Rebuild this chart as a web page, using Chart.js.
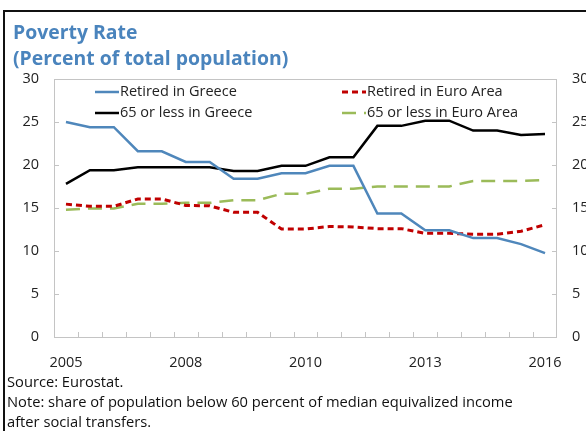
<!DOCTYPE html>
<html>
<head>
<meta charset="utf-8">
<script src="https://cdn.jsdelivr.net/npm/chart.js@4/dist/chart.umd.min.js"></script>
<style>
  html, body { margin: 0; padding: 0; background: #fff; }
  #wrap { position: relative; width: 586px; height: 431px; overflow: hidden; font-family: "Open Sans", sans-serif; }
  #frame { position: absolute; left: 3px; top: 10px; width: 600px; height: 440px; border-left: 2px solid #111; border-top: 2px solid #111; }
  #title { position: absolute; left: 13px; top: 19px; font-size: 19.4px; font-weight: bold; line-height: 26px; color: #4a84bd; white-space: nowrap; }
  #notes { position: absolute; left: 7px; top: 371px; font-size: 14.7px; line-height: 20px; color: #111; white-space: nowrap; }
  #myChart { position: absolute; left: 0; top: 0; }
</style>
</head>
<body>
<div id="wrap">
  <div id="frame"></div>
  <canvas id="myChart" width="600" height="431"></canvas>
  <div id="title">Poverty Rate<br>(Percent of total population)</div>
  <div id="notes">Source: Eurostat.<br>Note: share of population below 60 percent of median equivalized income<br>after social transfers.</div>
</div>
<script>
var periods = ['2005', '', '', '', '', '2008', '', '', '', '', '2010', '', '', '', '', '2013', '', '', '', '', '2016'];

var retiredGreece = [25.0, 24.4, 24.4, 21.6, 21.6, 20.35, 20.35, 18.4, 18.4, 19.05, 19.05, 19.9, 19.9, 14.35, 14.35, 12.4, 12.4, 11.5, 11.5, 10.8, 9.75];
var retiredEuroArea = [15.45, 15.2, 15.2, 16.05, 16.05, 15.3, 15.25, 14.5, 14.5, 12.55, 12.55, 12.85, 12.8, 12.6, 12.6, 12.05, 12.05, 11.95, 11.95, 12.3, 13.05];
var under65Greece = [17.8, 19.4, 19.4, 19.75, 19.75, 19.75, 19.75, 19.3, 19.3, 19.9, 19.9, 20.9, 20.9, 24.55, 24.55, 25.15, 25.15, 24.0, 24.0, 23.5, 23.6];
var under65EuroArea = [14.8, 14.95, 14.95, 15.5, 15.5, 15.6, 15.6, 15.9, 15.9, 16.65, 16.65, 17.25, 17.25, 17.5, 17.5, 17.5, 17.5, 18.15, 18.15, 18.15, 18.25];

var yTicks = [0, 5, 10, 15, 20, 25, 30];

Chart.defaults.font.family = '"Open Sans", sans-serif';
Chart.defaults.font.size = 14.5;
Chart.defaults.color = '#222';

var ctx = document.getElementById('myChart').getContext('2d');

// grey box round the plot and the little inward tick marks
var plotBox = {
    id: 'plotBox',
    beforeDatasetsDraw: function(chart) {
        var a = chart.chartArea;
        var c = chart.ctx;
        c.save();
        c.strokeStyle = '#c4c4c4';
        c.lineWidth = 1;
        c.strokeRect(a.left + 0.5, a.top + 0.5, a.right - a.left - 1, a.bottom - a.top);
        var n = chart.data.labels.length;
        var step = (a.right - a.left) / n;
        c.beginPath();
        for (var i = 1; i < n; i++) {
            var x = Math.round(a.left + i * step) + 0.5;
            c.moveTo(x, a.bottom);
            c.lineTo(x, a.bottom - 5);
        }
        var ys = chart.scales.y;
        yTicks.forEach(function(v) {
            var y = Math.round(ys.getPixelForValue(v)) + 0.5;
            c.moveTo(a.left, y);
            c.lineTo(a.left + 5, y);
            c.moveTo(a.right, y);
            c.lineTo(a.right - 5, y);
        });
        c.stroke();
        c.restore();
    }
};

// legend in two columns inside the plot
var legendSpots = [[95, 92], [342, 92], [95, 113], [342, 113]];
var boxLegend = {
    id: 'boxLegend',
    afterDraw: function(chart) {
        var c = chart.ctx;
        c.save();
        c.font = '14.5px "Open Sans", sans-serif';
        c.textBaseline = 'middle';
        c.fillStyle = '#222';
        chart.data.datasets.forEach(function(ds, i) {
            var p = legendSpots[i];
            c.strokeStyle = ds.borderColor;
            c.lineWidth = ds.borderWidth;
            c.setLineDash(ds.borderDash || []);
            c.beginPath();
            c.moveTo(p[0], p[1]);
            c.lineTo(p[0] + 24, p[1]);
            c.stroke();
            c.setLineDash([]);
            c.fillText(ds.label, p[0] + 25, p[1]);
        });
        c.restore();
    }
};

var myChart = new Chart(ctx, {
    type: 'line',
    data: {
        labels: periods,
        datasets: [{
            label: 'Retired in Greece',
            data: retiredGreece,
            borderColor: '#4f87bb',
            borderWidth: 2.5,
            yAxisID: 'y'
        }, {
            label: 'Retired in Euro Area',
            data: retiredEuroArea,
            borderColor: '#c00000',
            borderWidth: 3,
            borderDash: [6, 4],
            yAxisID: 'y'
        }, {
            label: '65 or less in Greece',
            data: under65Greece,
            borderColor: '#000000',
            borderWidth: 2.5,
            yAxisID: 'y'
        }, {
            label: '65 or less in Euro Area',
            data: under65EuroArea,
            borderColor: '#9bbb59',
            borderWidth: 2.5,
            borderDash: [14, 8],
            yAxisID: 'y'
        }]
    },
    options: {
        responsive: false,
        maintainAspectRatio: false,
        animation: false,
        devicePixelRatio: 1,
        layout: { padding: { top: 79, left: 0, right: 0, bottom: 0 } },
        elements: {
            point: { radius: 0 },
            line: { tension: 0, fill: false, borderCapStyle: 'butt' }
        },
        plugins: {
            legend: { display: false },
            tooltip: { enabled: false }
        },
        scales: {
            x: {
                offset: true,
                grid: { display: false, drawTicks: false },
                border: { display: false },
                ticks: { autoSkip: false, maxRotation: 0, padding: 17 },
                afterFit: function(s) { s.height = 94; }
            },
            y: {
                position: 'left',
                min: 0,
                max: 30,
                grid: { display: false, drawTicks: false },
                border: { display: false },
                ticks: { stepSize: 5, padding: 15 },
                afterFit: function(s) { s.width = 54; }
            },
            y1: {
                position: 'right',
                min: 0,
                max: 30,
                grid: { display: false, drawTicks: false },
                border: { display: false },
                ticks: { stepSize: 5, padding: 15 },
                afterFit: function(s) { s.width = 43; }
            }
        }
    },
    plugins: [plotBox, boxLegend]
});
</script>
</body>
</html>
